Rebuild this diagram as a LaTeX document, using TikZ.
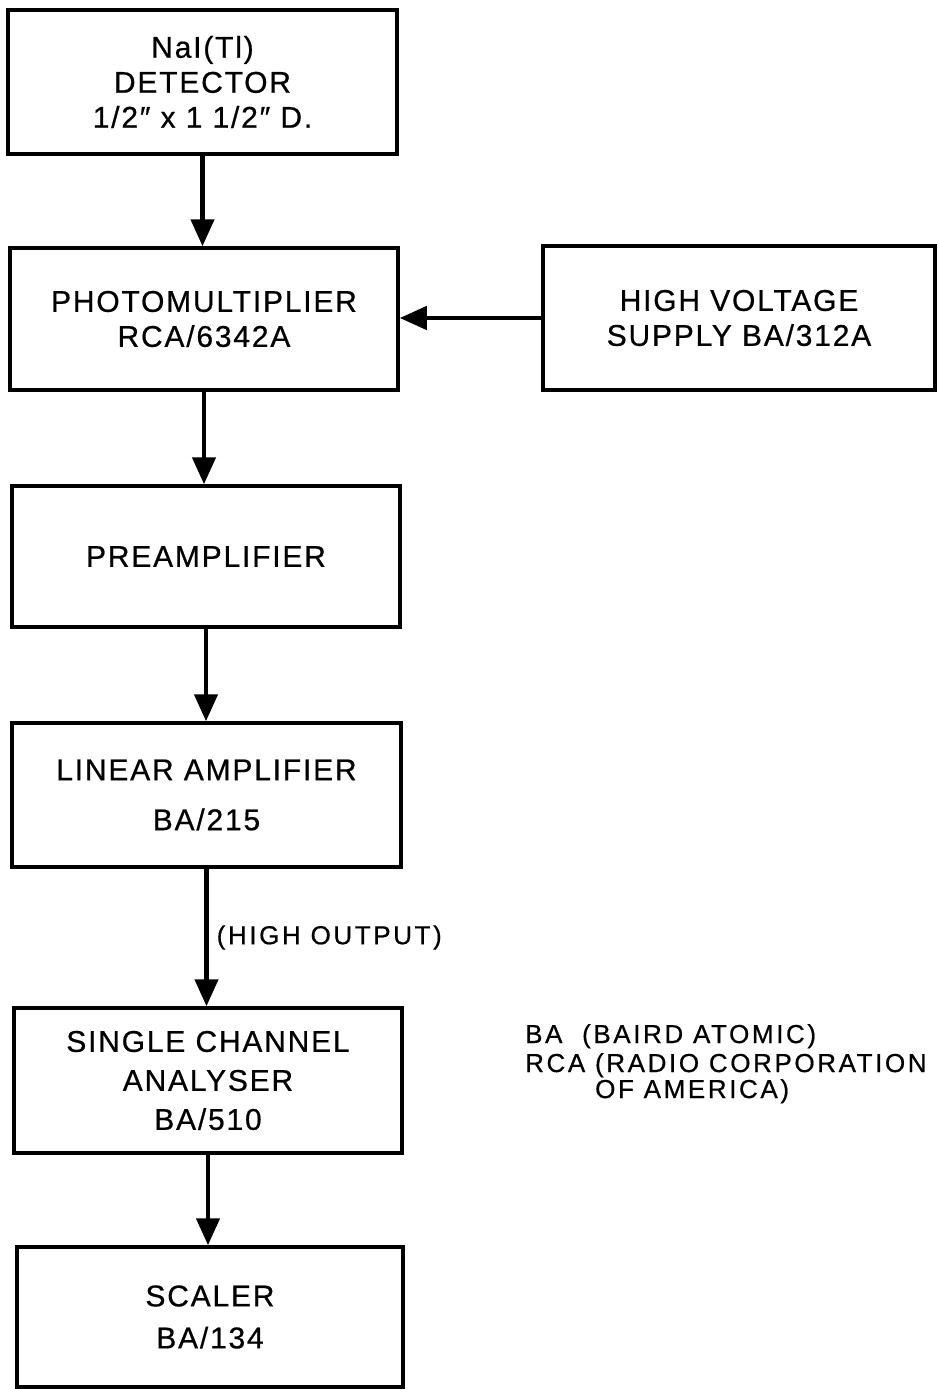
\documentclass[tikz,border=0pt]{standalone}
\usepackage{fontspec}
\setmainfont{Liberation Sans}[LetterSpace=6, FakeBold=0.6]
\newfontfamily\lblfont{Liberation Sans}[LetterSpace=10, FakeBold=0.6]
\usetikzlibrary{arrows.meta}
\begin{document}
\begin{tikzpicture}[x=1pt,y=-1pt,
  blk/.style={draw, line width=3.5pt, rectangle, inner sep=0pt, align=center,
    font=\fontsize{30}{35}\selectfont},
  flow/.style={line width=4.5pt, -{Triangle[length=27pt,width=23pt]}},
  lbl/.style={font=\lblfont\fontsize{26}{30}\selectfont, inner sep=0pt}]
\useasboundingbox (0,0) rectangle (938,1389);
\fill[white] (0,0) rectangle (938,1389);

\node[blk, minimum width=389pt, minimum height=144pt] (det) at (202.5,82)
  {NaI(Tl)\\DETECTOR\\1/2″ x 1 1/2″ D.};
\node[blk, minimum width=388pt, minimum height=142pt] (pm) at (204,319)
  {PHOTOMULTIPLIER\\RCA/6342A};
\node[blk, minimum width=392pt, minimum height=144pt] (hv) at (739,318)
  {HIGH VOLTAGE\\SUPPLY BA/312A};
\node[blk, minimum width=388pt, minimum height=141pt] (pre) at (206,556.5)
  {PREAMPLIFIER};
\node[blk, minimum width=389pt, minimum height=144pt] (lin) at (206.5,795)
  {LINEAR AMPLIFIER\\[15pt]BA/215};
\node[blk, minimum width=388pt, minimum height=145pt] (sca) at (208,1080.5)
  {SINGLE CHANNEL\\[4pt]ANALYSER\\[4pt]BA/510};
\node[blk, minimum width=386pt, minimum height=140pt] (sc) at (210,1317)
  {SCALER\\[7pt]BA/134};

\draw[flow] (det.south) -- (det.south |- pm.north);
\draw[flow] (hv.west) -- (hv.west -| pm.east);
\draw[flow] (pm.south) -- (pm.south |- pre.north);
\draw[flow] (pre.south) -- (pre.south |- lin.north);
\draw[flow] (lin.south) -- node[lbl, midway, anchor=west, xshift=8pt] (ho) {(HIGH OUTPUT)} (lin.south |- sca.north);
\draw[flow] (sca.south) -- (sca.south |- sc.north);

\node[lbl, anchor=base west] (l1) at (525,1043) {BA\ \ (BAIRD ATOMIC)};
\node[lbl, anchor=base west] (l2) at (525,1072) {RCA (RADIO CORPORATION};
\node[lbl, anchor=base west] (l3) at (595,1098) {OF AMERICA)};
\end{tikzpicture}
\end{document}
